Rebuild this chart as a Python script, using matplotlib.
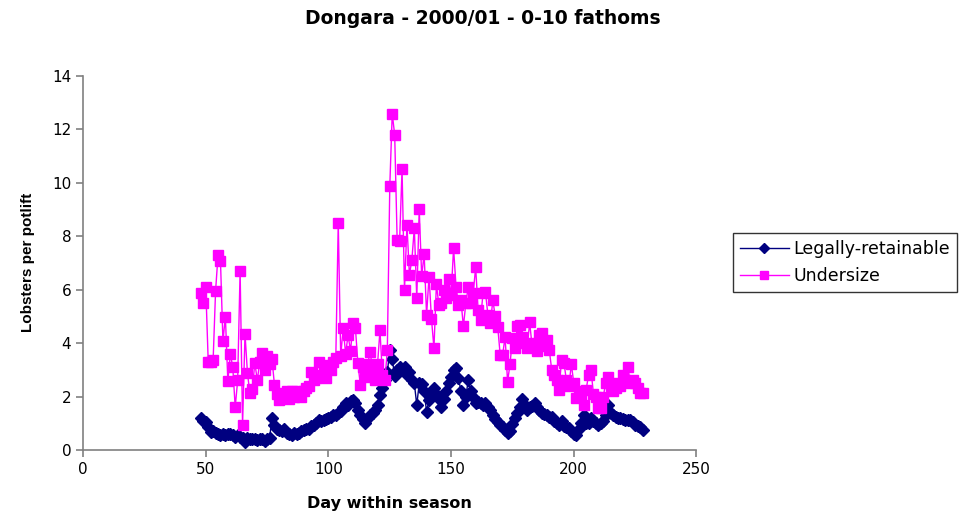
import matplotlib
matplotlib.use("Agg")
import matplotlib.pyplot as plt

days = list(range(48, 229))

legal = [1.18, 1.1, 1.06, 0.85, 0.69, 0.7, 0.62, 0.6, 0.55, 0.6,
         0.55, 0.6, 0.6, 0.55, 0.5, 0.56, 0.5, 0.45, 0.31, 0.45,
         0.4, 0.42, 0.4, 0.38, 0.42, 0.4, 0.35, 0.42, 0.45, 1.18,
         0.95, 0.8, 0.75, 0.7, 0.8, 0.65, 0.6, 0.55, 0.62, 0.6,
         0.65, 0.7, 0.75, 0.8, 0.78, 0.9, 0.95, 1.0, 1.12, 1.1,
         1.12, 1.15, 1.2, 1.25, 1.3, 1.3, 1.37, 1.45, 1.6, 1.75,
         1.7, 1.85, 1.87, 1.75, 1.5, 1.3, 1.15, 1.0, 1.2, 1.3,
         1.4, 1.5, 1.7, 2.06, 2.3, 2.62, 2.9, 3.74, 3.4, 2.75,
         3.0, 3.12, 3.0, 3.12, 2.8, 2.9, 2.6, 2.5, 1.68, 2.5,
         2.47, 2.2, 1.43, 1.87, 2.0, 2.3, 2.1, 1.9, 1.6, 1.9,
         2.2, 2.5, 2.74, 3.0, 3.06, 2.7, 2.2, 1.68, 2.0, 2.62,
         2.2, 2.0, 1.75, 1.8, 1.75, 1.7, 1.75, 1.6, 1.5, 1.3,
         1.15, 1.06, 0.95, 0.85, 0.75, 0.62, 0.7, 0.98, 1.2, 1.4,
         1.62, 1.9, 1.7, 1.5, 1.6, 1.65, 1.75, 1.6, 1.5, 1.4,
         1.35, 1.3, 1.25, 1.25, 1.1, 1.0, 0.94, 1.1, 0.9, 0.85,
         0.81, 0.7, 0.6, 0.56, 0.8, 1.0, 1.31, 1.0, 1.0, 1.19,
         1.1, 1.0, 0.94, 1.0, 1.1, 1.3, 1.68, 1.4, 1.3, 1.25,
         1.2, 1.2, 1.15, 1.12, 1.12, 1.12, 1.05, 0.94, 0.9, 0.85,
         0.75]

undersize = [5.87, 5.51, 6.09, 3.31, 3.31, 3.35, 5.95, 7.28, 7.08, 4.06,
             4.99, 2.57, 3.59, 3.12, 1.60, 2.60, 6.71, 0.94, 4.34, 2.87,
             2.12, 2.27, 3.27, 2.6, 3.3, 3.62, 3.0, 3.5, 3.2, 3.39,
             2.43, 2.1, 1.87, 2.15, 1.95, 2.2, 1.9, 2.2, 2.0, 2.2,
             2.1, 1.97, 2.2, 2.3, 2.4, 2.9, 2.6, 2.7, 3.3, 2.8,
             3.1, 2.68, 3.19, 3.0, 3.3, 3.43, 8.51, 3.5, 4.56, 3.6,
             4.3, 3.7, 4.74, 4.56, 3.25, 2.43, 3.1, 2.74, 3.2, 3.68,
             3.0, 2.62, 3.2, 4.47, 2.8, 2.6, 3.74, 9.86, 12.58, 11.79,
             7.86, 7.8, 10.51, 5.99, 8.42, 6.55, 7.11, 8.30, 5.68, 9.01,
             6.5, 7.34, 5.05, 6.49, 4.89, 3.81, 6.2, 5.43, 5.5, 5.99,
             5.7, 6.39, 5.8, 7.55, 6.11, 5.43, 5.6, 4.62, 5.5, 6.11,
             5.5, 5.86, 6.84, 5.24, 4.87, 5.87, 5.9, 5.05, 4.74, 5.6,
             5.0, 4.6, 3.56, 3.56, 4.24, 2.56, 3.2, 4.2, 3.8, 4.64,
             4.68, 4.24, 4.0, 3.8, 4.77, 3.9, 4.0, 3.7, 4.3, 4.37,
             3.9, 4.1, 3.74, 3.0, 2.8, 2.6, 2.25, 3.37, 3.25, 2.6,
             2.4, 3.2, 2.5, 1.93, 2.2, 2.0, 1.68, 2.25, 2.8, 3.0,
             2.1, 2.0, 1.56, 1.56, 2.0, 2.5, 2.74, 2.4, 2.2, 2.3,
             2.5, 2.4, 2.8, 2.6, 3.12, 2.5, 2.6, 2.5, 2.3, 2.12,
             2.12]

series_names = ["Legally-retainable", "Undersize"]
title = "Dongara - 2000/01 - 0-10 fathoms"
xlabel = "Day within season"
ylabel = "Lobsters per potlift"

plt.rcParams['font.family'] = ['Liberation Sans', 'DejaVu Sans']
WIDE = ['DejaVu Sans']

fig = plt.figure(figsize=(9.66, 5.19), dpi=100)
ax = fig.add_axes([0.086, 0.133, 0.635, 0.721])

l1, = ax.plot(days, legal, color='#000080', lw=1, marker='D', ms=6.3,
              mec='#000080', mfc='#000080', label=series_names[0])
l2, = ax.plot(days, undersize, color='#FF00FF', lw=1, marker='s', ms=6.5,
              mec='#FF00FF', mfc='#FF00FF', label=series_names[1])

ax.set_xlim(0, 250)
ax.set_ylim(0, 14)
ax.set_xticks(range(0, 251, 50))
ax.set_yticks(range(0, 15, 2))
for s in ['top', 'right']:
    ax.spines[s].set_visible(False)
for s in ['left', 'bottom']:
    ax.spines[s].set_color('#808080')
    ax.spines[s].set_linewidth(1.2)
ax.tick_params(direction='out', length=5, color='#808080', width=1.2,
               labelcolor='black')
for lab in ax.get_xticklabels() + ax.get_yticklabels():
    lab.set_family(WIDE)
    lab.set_fontsize(11)
ax.set_xlabel(xlabel, fontsize=11.5, fontweight='bold', family=WIDE,
              labelpad=14)
ax.set_ylabel(ylabel, fontsize=11, fontweight='bold', labelpad=12)

fig.text(0.5, 0.965, title, ha='center', va='center', fontsize=13.5,
         fontweight='bold', family=WIDE)

leg = fig.legend(handles=[l1, l2], loc='upper left',
                 bbox_to_anchor=(0.759, 0.551),
                 prop={'family': WIDE, 'size': 12.5},
                 frameon=True, fancybox=False, edgecolor='black',
                 handlelength=2.8, borderpad=0.4, labelspacing=0.5,
                 handletextpad=0.25, borderaxespad=0)
leg.get_frame().set_linewidth(1.0)
for h in leg.legend_handles:
    h.set_markersize(5.5)

fig.savefig("out.png", dpi=100)
